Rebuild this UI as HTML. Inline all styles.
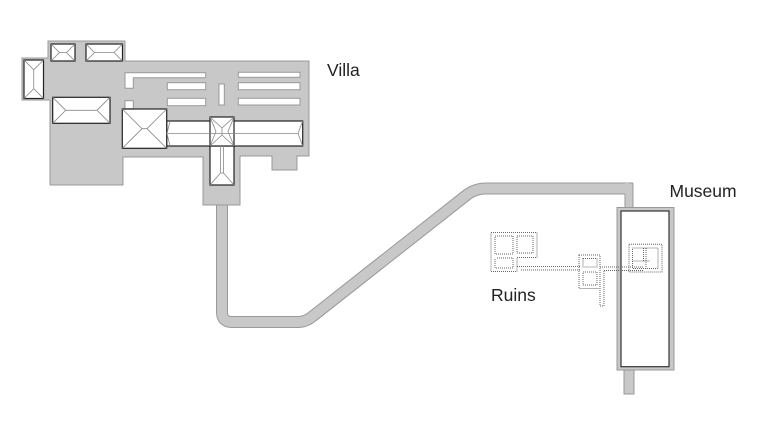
<!DOCTYPE html>
<html><head><meta charset="utf-8"><style>
html,body{margin:0;padding:0;background:#fff;}
svg{display:block;}
text{font-family:"Liberation Sans",sans-serif;font-size:17.5px;fill:#222;}
</style></head><body>
<svg width="770" height="428" viewBox="0 0 770 428" xmlns="http://www.w3.org/2000/svg">
<!-- connector path -->
<path d="M222,204 L222,312 Q222,322 232,322 L298,322 Q306,322 313,316 L468,194 Q476,188.5 486,188.5 L629,188.5" fill="none" stroke="#999" stroke-width="12" stroke-linejoin="miter"/>
<path d="M222,204 L222,312 Q222,322 232,322 L298,322 Q306,322 313,316 L468,194 Q476,188.5 486,188.5 L629,188.5" fill="none" stroke="#c8c8c8" stroke-width="10" stroke-linejoin="miter"/>
<rect x="625" y="183" width="8" height="26" fill="#c8c8c8"/>
<path d="M625,194 L625,208 M633,183 L633,208 M629,183 L633,183" stroke="#999" stroke-width="1" fill="none"/>

<!-- villa base -->
<path d="M48,41 L125,41 L125,61 L309,61 L309,156 L297,156 L297,170 L272,170 L272,156 L240,156 L240,205 L203,205 L203,157 L123,157 L123,185 L50,185 L50,100 L22,100 L22,58 L48,58 Z" fill="#c8c8c8" stroke="#999" stroke-width="1"/>
<!-- slots -->
<g fill="#fff" stroke="#999" stroke-width="1">
<path d="M125,72.7 L205.7,72.7 L205.7,77.7 L133.3,77.7 L133.3,88.3 L125,88.3 Z"/>
<rect x="125" y="100.7" width="8.3" height="8"/>
<rect x="167.3" y="82.7" width="38.4" height="7"/>
<rect x="167.3" y="98.3" width="38.4" height="7.4"/>
<rect x="219" y="84" width="5.3" height="21"/>
<rect x="238.3" y="72.3" width="61.7" height="5"/>
<rect x="238.3" y="82.7" width="61.7" height="7"/>
<rect x="238.3" y="98.3" width="61.7" height="6.7"/>
</g>
<!-- roofs -->
<g fill="#fff" stroke="#222" stroke-width="1.2">
<rect x="51" y="44" width="24" height="17"/>
<rect x="86" y="44" width="36.5" height="17"/>
<rect x="24" y="60" width="19.5" height="38.5"/>
<rect x="52.7" y="97.3" width="57.3" height="26"/>
<rect x="166.7" y="121" width="136" height="25"/>
<rect x="122.3" y="109" width="44.4" height="39.3"/>
<rect x="210" y="146" width="24" height="39"/>
<rect x="210" y="117" width="24" height="29"/>
</g>
<g fill="none" stroke="#888" stroke-width="0.8">
<path d="M51,44 L59.5,52.5 L51,61 M59.5,52.5 L66.5,52.5 M75,44 L66.5,52.5 L75,61"/>
<path d="M86,44 L94.5,52.5 L86,61 M94.5,52.5 L114,52.5 M122.5,44 L114,52.5 L122.5,61"/>
<path d="M24,60 L33.75,69.75 L43.5,60 M33.75,69.75 L33.75,88.75 M24,98.5 L33.75,88.75 L43.5,98.5"/>
<path d="M52.7,97.3 L65.7,110.3 L52.7,123.3 M65.7,110.3 L97,110.3 M110,97.3 L97,110.3 L110,123.3"/>
<path d="M122.3,109 L142,128.7 L122.3,148.3 M142,128.7 L147,128.7 M166.7,109 L147,128.7 L166.7,148.3"/>
<path d="M170,121 L167,133.5 L170,146 M167,133.5 L298,133.5 M302.7,121 L298,133.5 L302.7,146"/>
<path d="M210,117 L222,128 L234,117 M210,146 L222,135 L234,146 M222,128 L222,135 M210,117 L216,131.5 L210,146 M234,117 L228,131.5 L234,146"/>
<path d="M220.5,146 L220.5,173 M223.5,146 L223.5,173 M210,185 L220.5,173 L223.5,173 L234,185"/>
</g>

<!-- museum -->
<rect x="617" y="207.5" width="57" height="162.5" fill="#c8c8c8" stroke="#999" stroke-width="1"/>
<rect x="621" y="211" width="48" height="155.7" fill="#fff" stroke="#333" stroke-width="1.2"/>
<rect x="624" y="370" width="10" height="24" fill="#c8c8c8" stroke="#999" stroke-width="1"/>

<!-- ruins -->
<g fill="none" stroke="#666" stroke-width="1" stroke-dasharray="1 1">
<path d="M491,232.5 L537,232.5 L537,257.5 L517,257.5 L517,271.5 L491,271.5 Z"/>
<path d="M495,236 L513,236 L513,254 L495,254 Z"/>
<path d="M517,236 L533,236 L533,253 L517,253 Z"/>
<path d="M497,258 L513,258 L513,268 L495,268 L495,258"/>
<path d="M517,266.5 L580,266.5 M521,270 L580,270"/>
<path d="M579,255 L600,255 L600,288.5 L579,288.5 Z"/>
<path d="M583,258.5 L597,258.5 L597,267 L583,267 Z"/>
<path d="M583,272 L597,272 L597,285 L583,285 Z"/>
<path d="M600,270 L600,306 L604,306 L604,271"/>
<path d="M600,267 L643,267 M604,270.5 L643,270.5"/>
<path d="M629,244.3 L662,244.3 L662,272 L629,272 Z"/>
<path d="M632.5,248 L658,248 L658,268.5 L632.5,268.5 Z"/>
<path d="M643.5,248 L643.5,261 M646,248 L646,261 M632.5,261 L650,261 M646,262 L646,268.5"/>
</g>

<!-- labels -->
<text x="327" y="76">Villa</text>
<text x="669.5" y="197">Museum</text>
<text x="491" y="301">Ruins</text>
</svg>
</body></html>
